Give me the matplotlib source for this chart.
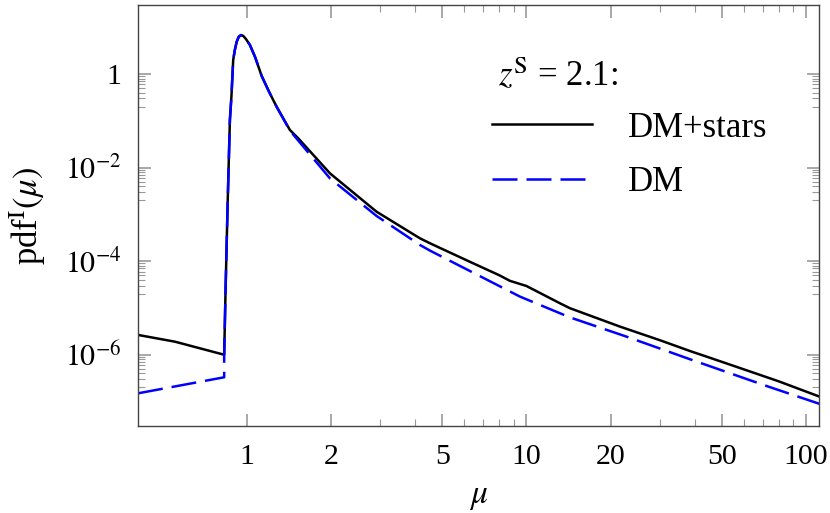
import matplotlib
matplotlib.use("Agg")
import matplotlib.pyplot as plt
from matplotlib.ticker import FixedLocator, NullFormatter

plt.rcParams['font.family'] = 'serif'
plt.rcParams['font.serif'] = ['Liberation Serif', 'DejaVu Serif']
plt.rcParams['mathtext.fontset'] = 'stix'

# magnification pdf
mu_stars = [0.408, 0.553, 0.829, 0.839, 0.853, 0.869, 0.880, 0.893, 0.905, 0.919,
            0.935, 0.952, 0.970, 0.990, 1.025, 1.07, 1.129, 1.20, 1.277, 1.425, 1.526,
            1.981, 2.91, 4.16, 4.52, 6.3, 8.0, 8.73, 10.0, 13.18, 14.3, 21.6, 30.0,
            38.5, 45.4, 58.1, 80.0, 112.0]
pdf_stars = [2.65e-6, 1.9e-6, 1.0e-6, 2.8e-5, 1.7e-3, 0.105, 0.33, 2.0, 3.26, 4.9,
             6.27, 6.8, 6.53, 5.69, 4.17, 2.29, 0.91, 0.417, 0.2, 0.0635, 0.0423,
             7.55e-3, 1.14e-3, 3.08e-4, 2.41e-4, 9.6e-5, 5.0e-5, 3.8e-5, 2.95e-5,
             1.26e-5, 9.9e-6, 4.0e-6, 2.05e-6, 1.2e-6, 8.6e-7, 5.2e-7, 2.7e-7, 1.27e-7]

mu_dm = [0.408, 0.829, 0.829, 0.839, 0.853, 0.869, 0.880, 0.893, 0.905, 0.919,
         0.935, 0.952, 0.970, 0.990, 1.025, 1.07, 1.129, 1.20, 1.277, 1.425, 1.981,
         2.91, 4.16, 4.52, 9.48, 14.3, 22.8, 38.5, 72.3, 112.0]
pdf_dm = [1.5e-7, 3.3e-7, 1.0e-6, 2.8e-5, 1.7e-3, 0.105, 0.33, 2.0, 3.26, 4.9,
          6.27, 6.8, 6.53, 5.69, 4.17, 2.29, 0.91, 0.417, 0.2, 0.0617, 5.9e-3,
          9.25e-4, 2.22e-4, 1.68e-4, 1.75e-5, 6.3e-6, 2.44e-6, 8.0e-7, 2.15e-7, 8.9e-8]

xmajor = [1, 2, 5, 10, 20, 50, 100]
xminor = [3, 4, 6, 7, 8, 9, 30, 40, 60, 70, 80, 90]
ymajor = [1e-6, 1e-4, 1e-2, 1]
ylabels = [r'$10^{-6}$', r'$10^{-4}$', r'$10^{-2}$', '1']
yminor = [k * 10.0 ** e for e in (-7, -5, -3, -1) for k in range(2, 10)]

fig = plt.figure(figsize=(8.3, 5.13), dpi=100)
ax = fig.add_axes([0.1666, 0.1696, 0.82, 0.8212])

ax.plot(mu_stars, pdf_stars, color='black', lw=1.8, label='DM+stars')
ax.plot(mu_dm, pdf_dm, color='#0000ff', lw=1.8, dashes=(10, 3.6), label='DM')

ax.set_xscale('log')
ax.set_yscale('log')
ax.set_xlim(0.4085, 111.3)
ax.set_ylim(3.0e-8, 30.3)

ax.xaxis.set_major_locator(FixedLocator(xmajor))
ax.xaxis.set_minor_locator(FixedLocator(xminor))
ax.set_xticklabels([str(v) for v in xmajor])
ax.xaxis.set_minor_formatter(NullFormatter())
ax.yaxis.set_major_locator(FixedLocator(ymajor))
ax.yaxis.set_minor_locator(FixedLocator(yminor))
ax.set_yticklabels(ylabels)
ax.yaxis.set_minor_formatter(NullFormatter())

ax.tick_params(which='both', direction='in', top=True, right=True, color='#999999',
               labelsize=21.5)
ax.tick_params(axis='x', pad=13)
ax.tick_params(axis='y', pad=12)
ax.tick_params(which='major', length=9, width=1.2)
ax.tick_params(which='minor', length=5, width=0.8)
for s in ax.spines.values():
    s.set_color('#444444')
    s.set_linewidth(1.0)

ax.set_xlabel(r'$\mu$', fontsize=24, labelpad=8)
ax.set_ylabel(r'pdf$^{\rm I}(\mu)$', fontsize=25, labelpad=12)

ax.text(0.528, 0.807, r'$z^{\rm S}$ = 2.1:', transform=ax.transAxes,
        fontsize=25, va='baseline')
ax.legend(loc='center left', bbox_to_anchor=(0.5196, 0.642), frameon=False,
          borderpad=0, borderaxespad=0, fontsize=25, handlelength=2.88,
          handletextpad=1.04, labelspacing=0.63)

fig.savefig('out.png', dpi=100)
